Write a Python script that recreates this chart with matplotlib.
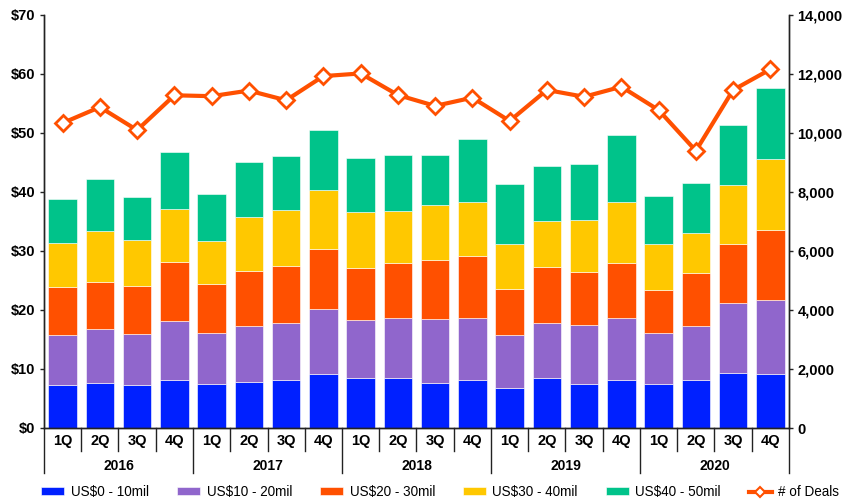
import matplotlib
matplotlib.use("Agg")
import matplotlib.pyplot as plt
from matplotlib.lines import Line2D
from matplotlib.ticker import FuncFormatter

plt.rcParams['font.family'] = ['Liberation Sans', 'DejaVu Sans']

# Data (US$ bn, stacked by deal size band)
years = ["2016", "2017", "2018", "2019", "2020"]
quarters = ["1Q", "2Q", "3Q", "4Q"]

band_0_10 = [7.3, 7.7, 7.2, 8.1, 7.5, 7.8, 8.2, 9.1, 8.5, 8.4,
             7.7, 8.2, 6.7, 8.4, 7.5, 8.1, 7.5, 8.2, 9.3, 9.2]
band_10_20 = [8.4, 9.0, 8.7, 10.0, 8.6, 9.4, 9.5, 11.0, 9.8, 10.2,
              10.8, 10.5, 9.0, 9.3, 9.9, 10.6, 8.6, 9.1, 11.8, 12.5]
band_20_30 = [8.1, 8.0, 8.2, 10.0, 8.3, 9.4, 9.8, 10.2, 8.8, 9.3,
              9.9, 10.4, 7.8, 9.6, 9.1, 9.3, 7.3, 8.9, 10.1, 11.9]
band_30_40 = [7.6, 8.7, 7.7, 9.0, 7.3, 9.1, 9.5, 10.0, 9.5, 8.8,
              9.4, 9.2, 7.7, 7.8, 8.8, 10.2, 7.8, 6.9, 9.9, 12.0]
band_40_50 = [7.4, 8.7, 7.4, 9.7, 8.0, 9.3, 9.1, 10.2, 9.1, 9.5,
              8.4, 10.6, 10.1, 9.3, 9.4, 11.4, 8.1, 8.4, 10.2, 12.0]
deals = [10330, 10870, 10090, 11270, 11240, 11430, 11100, 11920, 12010, 11280,
         10910, 11190, 10400, 11450, 11220, 11560, 10770, 9390, 11450, 12150]

series = [
    ("US$0 - 10mil", band_0_10, "#0020FF"),
    ("US$10 - 20mil", band_10_20, "#9066CC"),
    ("US$20 - 30mil", band_20_30, "#FF5000"),
    ("US$30 - 40mil", band_30_40, "#FFC800"),
    ("US$40 - 50mil", band_40_50, "#00C38A"),
]

n = len(deals)
x = list(range(n))

fig = plt.figure(figsize=(8.42, 5), dpi=100)
ax = fig.add_axes([44 / 842, 72 / 500, 745 / 842, 413.3 / 500])
ax2 = ax.twinx()

bottom = [0.0] * n
handles = []
for label, vals, color in series:
    bars = ax.bar(x, vals, width=0.77, bottom=bottom, color=color,
                  edgecolor="white", linewidth=0.4, label=label, zorder=2)
    handles.append(bars)
    bottom = [b + v for b, v in zip(bottom, vals)]

ax2.plot(x, deals, color="#FF5000", lw=3, marker="D", markersize=8,
         markerfacecolor="white", markeredgecolor="#FF5000",
         markeredgewidth=2, zorder=3)
deal_handle = Line2D([], [], color="#FF5000", lw=3, marker="D", markersize=5,
                     markerfacecolor="white", markeredgecolor="#FF5000",
                     markeredgewidth=1.5)

ax.set_xlim(-0.5, n - 0.5)
ax.set_ylim(0, 70)
ax.set_yticks(range(0, 71, 10))
ax.yaxis.set_major_formatter(FuncFormatter(lambda v, p: f"${int(v)}"))
ax2.set_ylim(0, 14000)
ax2.set_yticks(range(0, 14001, 2000))
ax2.yaxis.set_major_formatter(FuncFormatter(lambda v, p: f"{int(v):,}"))

for a in (ax, ax2):
    a.spines["top"].set_visible(False)
    for s in ("left", "right", "bottom"):
        a.spines[s].set_color("#222222")
        a.spines[s].set_linewidth(1)
    a.tick_params(axis="y", length=3, width=1, color="#222222",
                  labelsize=10.5, pad=3)
    for t in a.get_yticklabels():
        t.set_fontweight("bold")
ax.set_xticks([])
ax2.set_xticks([])

# quarter / year labels and separators below the axis
trans = ax.get_xaxis_transform()
px = 1 / 413.3
for i in range(n):
    ax.text(i, -13 * px, quarters[i % 4], transform=trans, ha="center",
            va="center", fontsize=10.5, fontweight="bold")
for k in range(n + 1):
    depth = 45 if k % 4 == 0 else 23
    ax.add_line(Line2D([k - 0.5, k - 0.5], [0, -depth * px], transform=trans,
                       color="#222222", lw=1, clip_on=False))
for j, yr in enumerate(years):
    ax.text(j * 4 + 1.5, -38 * px, yr, transform=trans, ha="center",
            va="center", fontsize=10, fontweight="bold")

fig.legend(handles + [deal_handle], [s[0] for s in series] + ["# of Deals"],
           loc="center", bbox_to_anchor=(0.523, 1 - 492 / 500), ncol=6,
           frameon=False, fontsize=9.75, handlelength=1.7, handleheight=0.5,
           columnspacing=2.05, handletextpad=0.5)

fig.savefig("out.png", dpi=100)
